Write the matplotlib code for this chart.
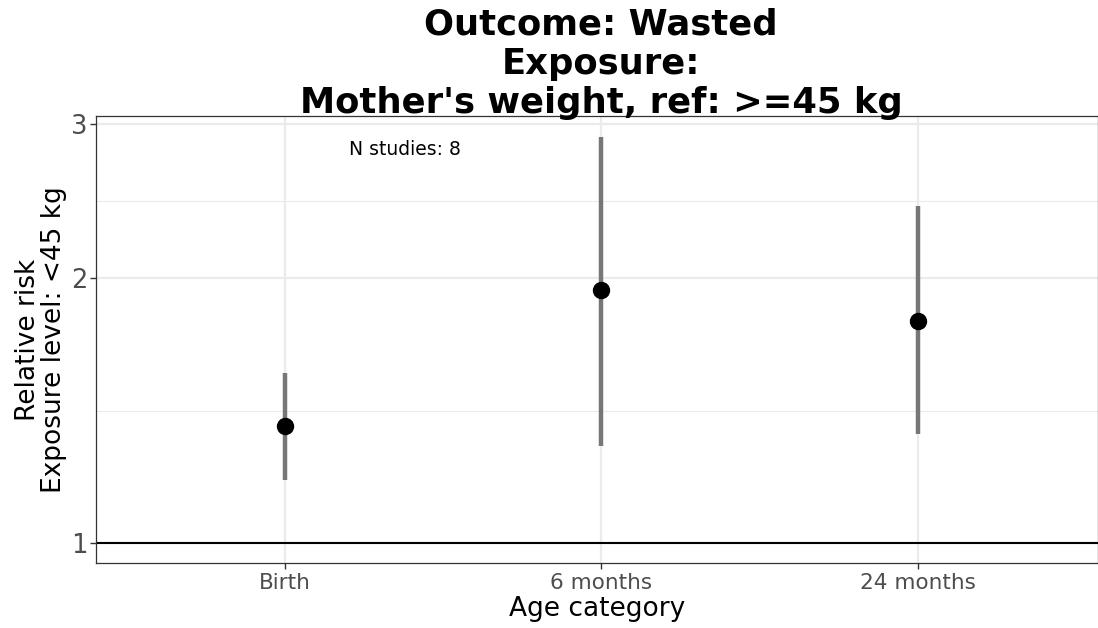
import matplotlib
matplotlib.use("Agg")
import matplotlib.pyplot as plt
import matplotlib.ticker as mticker
import numpy as np

categories = ["Birth", "6 months", "24 months"]
rr = [1.36, 1.94, 1.79]
ci_lower = [1.18, 1.29, 1.33]
ci_upper = [1.56, 2.90, 2.42]
y_ticks = [1, 2, 3]
y_minor = [np.sqrt(2), np.sqrt(6)]
n_studies_text = "N studies: 8"

fig = plt.figure(figsize=(10.98, 6.28), dpi=100)
ax = fig.add_axes([96/1098, 65/628, 1 - 96/1098, (563-116)/628])

x = np.arange(1, len(categories) + 1)
ax.set_yscale("log")
ax.set_xlim(0.403, 3.57)
ax.set_ylim(0.949, 3.06)

# grid
for yv in y_ticks:
    ax.axhline(yv, color="#EBEBEB", lw=1.6, zorder=0)
for yv in y_minor:
    ax.axhline(yv, color="#EBEBEB", lw=0.8, zorder=0)
for xv in x:
    ax.axvline(xv, color="#EBEBEB", lw=1.6, zorder=0)

ax.axhline(1, color="black", lw=1.5, zorder=1)
ax.vlines(x, ci_lower, ci_upper, color="#777777", lw=3.2, zorder=2)
ax.plot(x, rr, "o", color="black", ms=11.5, zorder=3)

ax.text(1.379, 2.80, n_studies_text, fontsize=13.5, ha="center", va="center", color="black")

ax.yaxis.set_major_locator(mticker.FixedLocator(y_ticks))
ax.yaxis.set_major_formatter(mticker.FixedFormatter([str(v) for v in y_ticks]))
ax.yaxis.set_minor_locator(mticker.NullLocator())
ax.set_xticks(x)
ax.set_xticklabels(categories)
ax.tick_params(axis="y", labelsize=18.5, colors="#333333", labelcolor="#4D4D4D", length=4, width=1, pad=2)
ax.tick_params(axis="x", labelsize=15.5, colors="#333333", labelcolor="#4D4D4D", length=4, width=1, pad=3)

for s in ax.spines.values():
    s.set_color("#333333")
    s.set_linewidth(0.9)

ax.set_xlabel("Age category", fontsize=19, labelpad=2)
ax.set_ylabel("Relative risk\nExposure level: <45 kg", fontsize=19, labelpad=3, linespacing=1.0)
fig.text(601/1098, 1 - 113/628, "Outcome: Wasted\nExposure:\nMother's weight, ref: >=45 kg",
         fontsize=25.5, fontweight="bold", linespacing=1.2, ha="center", va="baseline",
         multialignment="center")

fig.savefig("out.png", dpi=100)
